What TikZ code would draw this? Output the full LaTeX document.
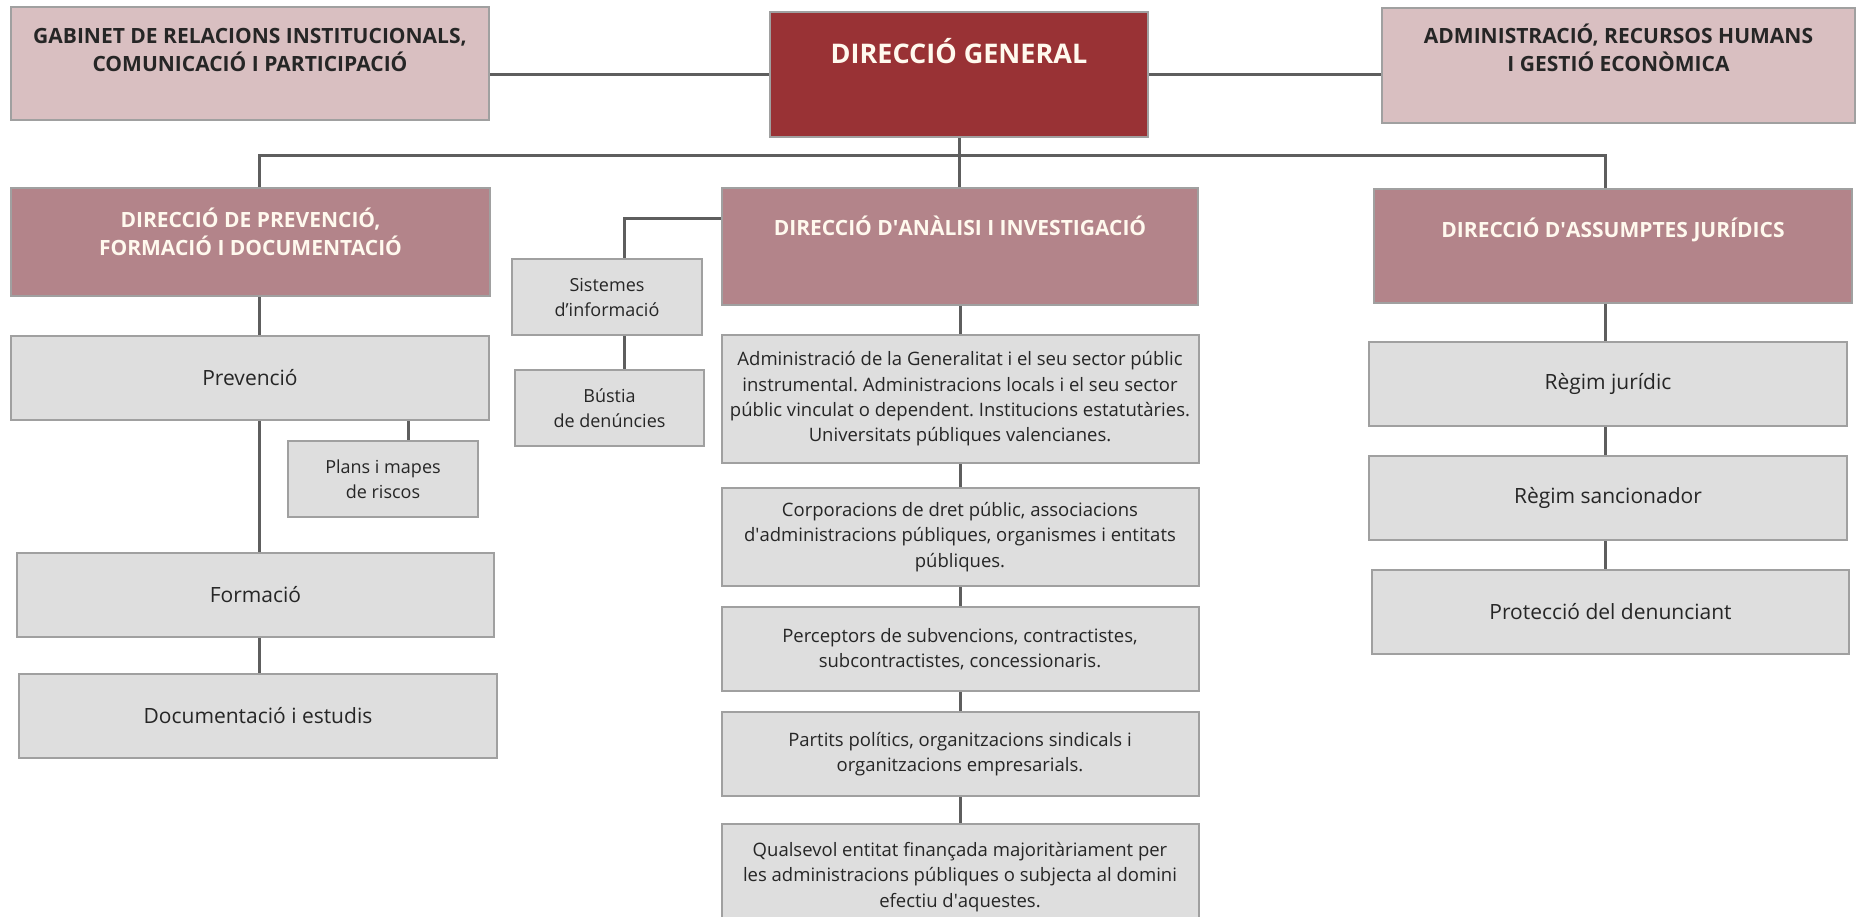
\documentclass[tikz,border=0pt]{standalone}
\usepackage{fontspec}
\setmainfont{Open Sans}
\usetikzlibrary{backgrounds}
\frenchspacing

\definecolor{dgred}{HTML}{993235}
\definecolor{pinklight}{HTML}{D9BFC1}
\definecolor{mauve}{HTML}{B3848A}
\definecolor{boxgray}{HTML}{DEDEDE}
\definecolor{edgegray}{HTML}{A0A0A0}
\definecolor{linkgray}{HTML}{5E5E5E}
\definecolor{cream}{HTML}{FFF9EE}

\tikzset{
  box/.style={draw=edgegray, line width=2pt, inner sep=0pt, align=center},
  pinkbox/.style={box, fill=pinklight},
  mauvebox/.style={box, fill=mauve},
  dgbox/.style={box, fill=dgred},
  greybox/.style={box, fill=boxgray, text=black!85},
  leftbox/.style={greybox, font=\fontsize{21}{28.6}\selectfont},
  midbox/.style={greybox, minimum width=477pt, font=\fontsize{18.5}{25.3}\selectfont},
  smallbox/.style={greybox, minimum width=190pt, minimum height=76pt, font=\fontsize{18}{25}\selectfont},
  headtxt/.style={align=center, inner sep=0pt, anchor=base, font=\bfseries\fontsize{21}{28.6}\selectfont},
  link/.style={draw=linkgray, line width=3pt},
}

\begin{document}
\begin{tikzpicture}[x=1pt, y=-1pt]
\useasboundingbox (0,0) rectangle (1858,917);

% top row
\node[pinkbox, minimum width=478pt, minimum height=113pt] (gab) at (250,63.5) {};
\node[dgbox, minimum width=378pt, minimum height=125pt] (dg) at (959,74.5) {};
\node[pinkbox, minimum width=473pt, minimum height=115pt] (adm) at (1618.5,65.5) {};

% base of a two-line text is its last line
\node[headtxt, text=black!85] (gabtxt) at ([yshift=-66pt]gab.north) {GABINET DE RELACIONS INSTITUCIONALS,\\COMUNICACIÓ I PARTICIPACIÓ};
\node[headtxt, text=cream, font=\bfseries\fontsize{27}{36}\selectfont] (dgtxt) at ([yshift=-53pt]dg.north) {DIRECCIÓ GENERAL};
\node[headtxt, text=black!85] (admtxt) at ([yshift=-65pt]adm.north) {ADMINISTRACIÓ, RECURSOS HUMANS\\I GESTIÓ ECONÒMICA};

% direccions
\node[mauvebox, minimum width=479pt, minimum height=108pt] (prevh) at (250.5,242) {};
\node[mauvebox, minimum width=476pt, minimum height=117pt] (anal) at (960,246.5) {};
\node[mauvebox, minimum width=478pt, minimum height=114pt] (jurh) at (1613,246) {};

\node[headtxt, text=cream] (prevhtxt) at ([yshift=-69pt]prevh.north) {DIRECCIÓ DE PREVENCIÓ,\\FORMACIÓ I DOCUMENTACIÓ};
\node[headtxt, text=cream] (analtxt) at ([yshift=-49pt]anal.north) {DIRECCIÓ D\textquotesingle ANÀLISI I INVESTIGACIÓ};
\node[headtxt, text=cream] (jurhtxt) at ([yshift=-50pt]jurh.north) {DIRECCIÓ D\textquotesingle ASSUMPTES JURÍDICS};

% left column
\node[leftbox, minimum width=478pt, minimum height=84pt] (prev) at (250,378) {Prevenció};
\node[smallbox] (plans) at (383,479) {Plans i mapes\\de riscos};
\node[leftbox, minimum width=477pt, minimum height=84pt] (form) at (255.5,595) {Formació};
\node[leftbox, minimum width=478pt, minimum height=84pt] (doc) at (258,716) {Documentació i estudis};

% sistemes
\node[smallbox] (sis) at (607,297) {Sistemes\\d’informació};
\node[smallbox, minimum width=189pt] (bus) at (609.5,408) {Bústia\\de denúncies};

% centre column
\node[midbox, minimum height=128pt] (c1) at (960,399) {Administració de la Generalitat i el seu sector públic\\instrumental. Administracions locals i el seu sector\\públic vinculat o dependent. Institucions estatutàries.\\Universitats públiques valencianes.};
\node[midbox, minimum height=98pt] (c2) at (960,537) {Corporacions de dret públic, associacions\\d\textquotesingle administracions públiques, organismes i entitats\\públiques.};
\node[midbox, minimum height=84pt] (c3) at (960,649) {Perceptors de subvencions, contractistes,\\subcontractistes, concessionaris.};
\node[midbox, minimum height=84pt] (c4) at (960,754) {Partits polítics, organitzacions sindicals i\\organitzacions empresarials.};
\node[midbox, minimum height=106pt] (c5) at (960,877) {Qualsevol entitat finançada majoritàriament per\\les administracions públiques o subjecta al domini\\efectiu d\textquotesingle aquestes.};

% right column
\node[leftbox, minimum width=478pt, minimum height=84pt] (jur) at (1608,384) {Règim jurídic};
\node[leftbox, minimum width=478pt, minimum height=84pt] (sanc) at (1608,498) {Règim sancionador};
\node[leftbox, minimum width=477pt, minimum height=84pt] (prot) at (1610.5,612) {Protecció del denunciant};

% connectors
\begin{scope}[on background layer]
\fill[white] (0,0) rectangle (1858,917);
\coordinate (busl) at (259,156);
\coordinate (busr) at (1605,156);
\coordinate (sisc) at (624,219);
\draw[link] (dg.west) -- (dg.west -| gab.east);
\draw[link] (dg.east) -- (dg.east -| adm.west);
\draw[link] (dg.south) -- (dg.south |- anal.north);
\draw[link] (prevh.north -| busl) -- (busl) -- (busr) -- (busr |- jurh.north);
\draw[link] (prevh.south -| busl) -- (prev.north -| busl);
\draw[link] (prev.south -| busl) -- (form.north -| busl);
\draw[link] (form.south -| busl) -- (doc.north -| busl);
\draw[link] ([xshift=25pt]plans.north) -- ([xshift=25pt]plans.north |- prev.south);
\draw[link] (anal.west |- sisc) -- (sisc) -- (sisc |- sis.north);
\draw[link] (sis.south -| sisc) -- (bus.north -| sisc);
\foreach \a/\b in {anal/c1, c1/c2, c2/c3, c3/c4, c4/c5}
  \draw[link] (\a.south) -- (\b.north);
\draw[link] (jurh.south -| busr) -- (jur.north -| busr);
\draw[link] (jur.south -| busr) -- (sanc.north -| busr);
\draw[link] (sanc.south -| busr) -- (prot.north -| busr);
\end{scope}
\end{tikzpicture}
\end{document}
